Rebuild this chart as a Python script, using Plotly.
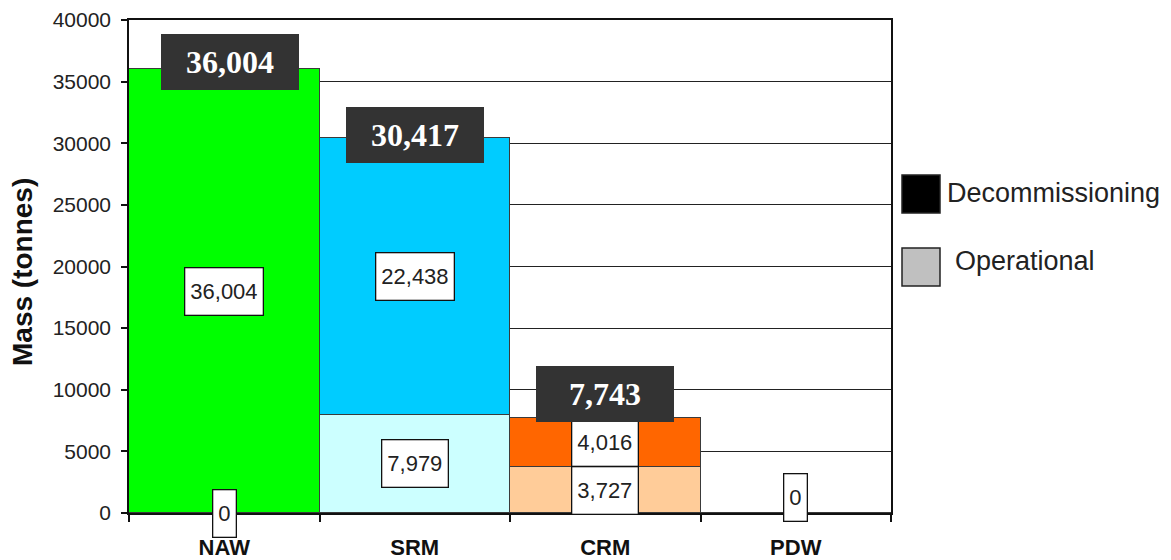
import plotly.graph_objects as go

categories = ["NAW", "SRM", "CRM", "PDW"]
operational = [0, 7979, 3727, 0]
decommissioning = [36004, 22438, 4016, 0]
totals = [o + d for o, d in zip(operational, decommissioning)]
y_ticks = [0, 5000, 10000, 15000, 20000, 25000, 30000, 35000, 40000]

op_colors = ["#CCFFCC", "#CCFFFF", "#FFCC99", "#DDDDDD"]
dec_colors = ["#00FF00", "#00CCFF", "#FF6600", "#888888"]

# page geometry (pixels); the page body adds an 8px offset
OFF = 8
PAGE_W, PAGE_H = 1171, 560
W, H = PAGE_W - OFF, PAGE_H - OFF
PLOT_L, PLOT_R, PLOT_T, PLOT_B = 129, 891, 20, 513   # in page pixels
L = PLOT_L - OFF
T = PLOT_T - OFF
R = W - (PLOT_R - OFF)
B = H - (PLOT_B - OFF)
PW = PLOT_R - PLOT_L
PH = PLOT_B - PLOT_T

def px2x(px):
    return (px - PLOT_L) / PW

def px2y(py):
    return (PLOT_B - py) / PH

fig = go.Figure()
fig.add_trace(go.Bar(
    x=categories, y=operational, name="Operational",
    marker=dict(color=op_colors, line=dict(color="#3a3a3a", width=1)),
    showlegend=False, hoverinfo="x+y",
))
fig.add_trace(go.Bar(
    x=categories, y=decommissioning, name="Decommissioning",
    marker=dict(color=dec_colors, line=dict(color="#3a3a3a", width=1)),
    showlegend=False, hoverinfo="x+y",
))

annotations = []

# inner value labels
inner_font = dict(family="Liberation Sans, Arial, sans-serif", size=22, color="#222222")
zero_yshift = {"NAW": 0, "PDW": 16}
for i, cat in enumerate(categories):
    o, d = operational[i], decommissioning[i]
    labels = [(o / 2, o, zero_yshift.get(cat, 0) if o == 0 else 0)]
    if d > 0:
        labels.append((o + d / 2, d, 0))
    for yv, val, ys in labels:
        annotations.append(dict(
            x=cat, y=yv, xref="x", yref="y", text=f"{val:,}", showarrow=False,
            font=inner_font, bgcolor="white", bordercolor="#111111", borderwidth=1.3,
            borderpad=5, height=36, yshift=ys,
        ))

# total labels (dark boxes)
total_yshift = [7, 3, 24, 0]
total_xshift = [6, 0, 0, 0]
for i, cat in enumerate(categories):
    if totals[i] <= 0:
        continue
    annotations.append(dict(
        x=cat, y=totals[i], xref="x", yref="y", text=f"<b>{totals[i]:,}</b>",
        showarrow=False,
        font=dict(family="Liberation Serif, Times New Roman, serif", size=32, color="white"),
        bgcolor="#333333", borderwidth=0, borderpad=0, width=138, height=56,
        yshift=total_yshift[i], xshift=total_xshift[i],
    ))

# y-axis title
annotations.append(dict(
    x=px2x(22), y=px2y(272), xref="paper", yref="paper", text="<b>Mass (tonnes)</b>",
    showarrow=False, textangle=-90,
    font=dict(family="Liberation Sans, Arial, sans-serif", size=28, color="#111111"),
    xanchor="center", yanchor="middle",
))

# custom legend
legend_items = [("Decommissioning", "#000000", 194, 945, 193), ("Operational", "#C0C0C0", 267, 953, 261)]
shapes = []
for name, col, cy, tx, ty in legend_items:
    shapes.append(dict(
        type="rect", xref="paper", yref="paper",
        x0=px2x(902), x1=px2x(940), y0=px2y(cy + 19), y1=px2y(cy - 19),
        fillcolor=col, line=dict(color="#222222", width=1.5),
    ))
    annotations.append(dict(
        x=px2x(tx), y=px2y(ty),
        xref="paper", yref="paper", text=name, showarrow=False,
        xanchor="left", yanchor="middle",
        font=dict(family="Liberation Sans, Arial, sans-serif", size=27, color="#222222"),
    ))

fig.update_layout(
    width=W, height=H,
    margin=dict(l=L, r=R, t=T, b=B, autoexpand=False),
    barmode="stack", bargap=0,
    paper_bgcolor="white", plot_bgcolor="white",
    showlegend=False,
    annotations=annotations, shapes=shapes,
    xaxis=dict(
        type="category", categoryorder="array", categoryarray=categories,
        range=[-0.5, len(categories) - 0.5],
        showline=True, linecolor="#111111", linewidth=1.5, mirror=True,
        ticks="outside", tickson="boundaries", ticklen=7, tickcolor="#111111", tickwidth=1.5,
        showgrid=False,
        tickfont=dict(family="Liberation Sans, Arial, sans-serif", size=22, color="#111111", weight="bold"),
        ticklabelstandoff=14,
    ),
    yaxis=dict(
        range=[0, 40000], tickvals=y_ticks, tickformat="d",
        showline=True, linecolor="#111111", linewidth=1.5, mirror=True,
        ticks="outside", ticklen=6, tickcolor="#111111", tickwidth=1.5,
        showgrid=True, gridcolor="#222222", gridwidth=1.4,
        zeroline=False,
        tickfont=dict(family="Liberation Sans, Arial, sans-serif", size=21, color="#222222"),
        ticklabelstandoff=6,
    ),
)

fig.write_html("out.html")
